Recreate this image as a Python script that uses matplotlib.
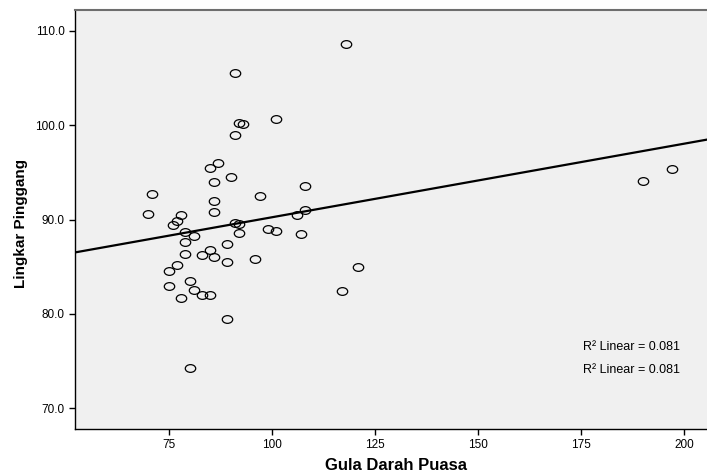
import numpy as np
import matplotlib
matplotlib.use('Agg')
import matplotlib.pyplot as plt
from matplotlib.path import Path
from matplotlib.transforms import Affine2D

plt.rcParams['font.family'] = ['Liberation Sans', 'DejaVu Sans']

# Gula Darah Puasa (x) vs Lingkar Pinggang (y)
gula = [118, 91, 92, 93, 91, 101, 87, 85, 90, 86, 71, 86, 97, 108,
        70, 78, 86, 77, 76, 79, 81, 79, 91, 92, 92, 106, 108, 99, 101, 107,
        89, 79, 85, 83, 86, 89, 96, 77, 75, 121, 75, 80, 81, 83, 85, 78,
        117, 89, 80, 190, 197]
lingkar = [108.6, 105.5, 100.2, 100.1, 99.0, 100.7, 96.0, 95.5, 94.5, 94.0, 92.7, 92.0, 92.5, 93.5,
           90.6, 90.5, 90.8, 89.8, 89.4, 88.7, 88.3, 87.6, 89.6, 89.5, 88.6, 90.5, 91.0, 89.0, 88.8, 88.5,
           87.4, 86.3, 86.8, 86.2, 86.0, 85.5, 85.8, 85.2, 84.5, 85.0, 83.0, 83.5, 82.5, 82.0, 82.0, 81.7,
           82.4, 79.5, 74.3, 94.1, 95.3]
xticks = [75, 100, 125, 150, 175, 200]
yticks = [70, 80, 90, 100, 110]
r2_label = 'R\u00b2 Linear = 0.081'

x = np.array(gula, dtype=float)
y = np.array(lingkar, dtype=float)
slope, icept = np.polyfit(x, y, 1)

fig = plt.figure(figsize=(7.07, 4.76), dpi=100)
ax = fig.add_axes([75 / 707, 47 / 476, 632 / 707, 419 / 476])
ax.set_facecolor('#f0f0f0')

# SPSS style markers are slightly wider than tall
ell = Path.unit_circle().transformed(Affine2D().scale(1.35, 1.0))
ax.plot(x, y, linestyle='none', marker=ell, markersize=7.5, markerfacecolor='none',
        markeredgecolor='black', markeredgewidth=0.9)

xlim = (52.2, 205.6)
xs = np.array(xlim)
ax.plot(xs, icept + slope * xs, color='black', linewidth=1.6)

ax.set_xlim(xlim)
ax.set_ylim(67.8, 112.2)
ax.set_xticks(xticks)
ax.set_yticks(yticks)
ax.set_yticklabels(['%.1f' % v for v in yticks])
ax.tick_params(direction='out', length=4, width=1, labelsize=8.5, colors='black')

ax.spines['right'].set_visible(False)
ax.spines['top'].set_color('#6e6e6e')
ax.spines['top'].set_linewidth(1.5)
ax.spines['left'].set_linewidth(1)
ax.spines['bottom'].set_linewidth(1)

ax.text(175.5, 76.5, r2_label, fontsize=9, va='center', ha='left')
ax.text(175.5, 74.0, r2_label, fontsize=9, va='center', ha='left')

fig.text(396 / 707, 1 - 466 / 476, 'Gula Darah Puasa', fontsize=12, fontweight='bold',
         ha='center', va='center')
fig.text(21 / 707, 1 - 223 / 476, 'Lingkar Pinggang', fontsize=11, fontweight='bold',
         rotation=90, ha='center', va='center')

fig.savefig('out.png', dpi=100)
